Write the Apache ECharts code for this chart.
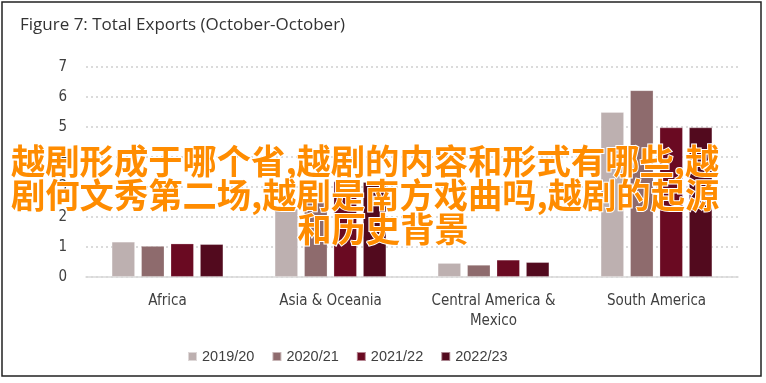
<!DOCTYPE html>
<html><head><meta charset="utf-8">
<script src="https://cdn.jsdelivr.net/npm/echarts@6/dist/echarts.min.js"></script>
<style>html,body{margin:0;padding:0;background:#fff}#c{width:766px;height:383px}</style>
</head><body><div id="c"></div>
<script>
const categories = ['Africa', 'Asia & Oceania', 'Central America &\nMexico', 'South America'];
const seriesNames = ['2019/20', '2020/21', '2021/22', '2022/23'];
const v2019 = [1.16, 2.26, 0.45, 5.48];
const v2020 = [1.02, 2.48, 0.39, 6.21];
const v2021 = [1.10, 3.17, 0.56, 4.97];
const v2022 = [1.08, 3.15, 0.48, 4.97];
const yTicks = [0, 1, 2, 3, 4, 5, 6, 7];
const titleText = 'Figure 7: Total Exports (October-October)';
const overlayLines = ['越剧形成于哪个省,越剧的内容和形式有哪些,越', '剧何文秀第二场,越剧是南方戏曲吗,越剧的起源', '和历史背景'];

const colors = ['#bdb0b0', '#8e6b6d', '#6a0a22', '#520a1e'];
const values = [v2019, v2020, v2021, v2022];
const labelFont = "'Liberation Sans Narrow','DejaVu Sans Condensed','Roboto Condensed',sans-serif";

const chart = echarts.init(document.getElementById('c'), null, {renderer: 'canvas'});
chart.setOption({
  animation: false,
  backgroundColor: '#fff',
  title: {
    text: titleText, left: 15, top: 12,
    textStyle: {fontFamily: "'Open Sans',sans-serif", fontSize: 17, fontWeight: 'normal', color: '#333'}
  },
  grid: {left: 86, right: 28, top: 66.7, bottom: 106.3},
  legend: {
    top: 344, left: 182, itemWidth: 9, itemHeight: 9, itemGap: 17,
    icon: 'rect',
    textStyle: {fontFamily: "'Liberation Sans',sans-serif", fontSize: 14.5, color: '#404040'},
    data: seriesNames
  },
  xAxis: {
    type: 'category', data: categories,
    axisLine: {lineStyle: {color: '#d9d9d9', width: 1.5}},
    axisTick: {show: false},
    axisLabel: {fontFamily: labelFont, fontSize: 15, color: '#404040', margin: 14, lineHeight: 20, interval: 0}
  },
  yAxis: {
    type: 'value', min: yTicks[0], max: yTicks[yTicks.length - 1], interval: 1,
    axisLine: {show: false}, axisTick: {show: false},
    axisLabel: {fontFamily: labelFont, fontSize: 15, color: '#404040', margin: 19},
    splitLine: {lineStyle: {color: '#cfcfcf', type: [2, 3], width: 1.5}}
  },
  series: seriesNames.map((n, i) => ({
    name: n, type: 'bar', data: values[i], barWidth: 23, barGap: '28%',
    itemStyle: {color: colors[i], borderColor: 'rgba(255,255,255,0.5)', borderWidth: 0.5}
  })),
  graphic: [
    {type: 'rect', shape: {x: 2, y: 2, width: 759, height: 374}, style: {fill: 'none', stroke: '#222', lineWidth: 1.5}, z: 100},
    {type: 'text', left: 10, top: 143, z: 110,
     style: {text: overlayLines[0] + '\n' + overlayLines[1], fill: '#ff8c00', stroke: '#fff', lineWidth: 2,
             font: "bold 34.3px 'Noto Sans CJK SC'", lineHeight: 34}},
    {type: 'text', left: 'center', top: 211, z: 110,
     style: {text: overlayLines[2], fill: '#ff8c00', stroke: '#fff', lineWidth: 2,
             font: "bold 34.3px 'Noto Sans CJK SC'", lineHeight: 34}}
  ]
});
</script></body></html>
